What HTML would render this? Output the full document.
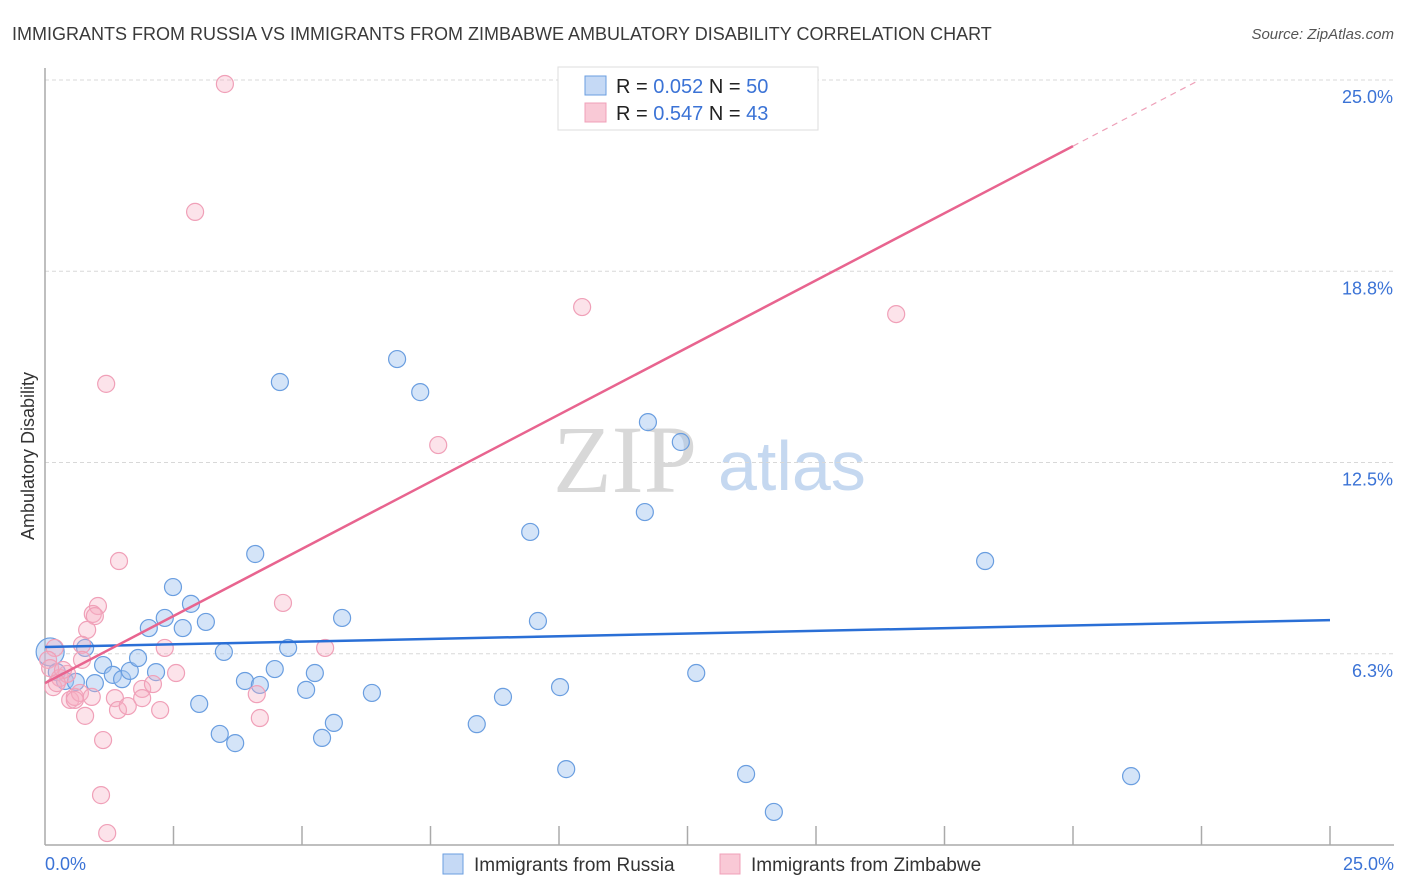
<!DOCTYPE html>
<html><head><meta charset="utf-8">
<style>
body{margin:0;background:#fff;font-family:"Liberation Sans",sans-serif;}
svg{display:block}
</style></head>
<body>
<svg id="chart" width="1406" height="892" xmlns="http://www.w3.org/2000/svg" font-family="Liberation Sans, sans-serif">
<text x="12" y="40" font-size="18" fill="#3a3a3a">IMMIGRANTS FROM RUSSIA VS IMMIGRANTS FROM ZIMBABWE AMBULATORY DISABILITY CORRELATION CHART</text>
<text x="1394" y="39" font-size="15" fill="#555" font-style="italic" text-anchor="end">Source: ZipAtlas.com</text>
<g>
<text x="553" y="492" font-size="96" font-family="Liberation Serif, serif" fill="#d8d8d8">ZIP</text>
<text x="718" y="490" font-size="70" fill="#c5d8f0">atlas</text>
</g>
<g id="grid"></g>
<g id="axes"></g>
<g id="pts"></g>
<g id="lines"></g>
<text transform="translate(34,456) rotate(-90)" font-size="18" fill="#333" text-anchor="middle">Ambulatory Disability</text>
<g>
<rect x="558" y="67" width="260" height="63" fill="#fff" stroke="#ddd"/>
<rect x="585" y="76" width="21" height="19" fill="#c5d9f5" stroke="#6a9ee0"/>
<rect x="585" y="103" width="21" height="19" fill="#f9c9d6" stroke="#f0a0b8"/>
<text x="616" y="93" font-size="20" fill="#222">R = <tspan fill="#3b73d6">0.052</tspan>   N = <tspan fill="#3b73d6">50</tspan></text>
<text x="616" y="120" font-size="20" fill="#222">R = <tspan fill="#3b73d6">0.547</tspan>   N = <tspan fill="#3b73d6">43</tspan></text>
</g>
<g>
<rect x="443" y="854" width="20" height="20" fill="#c5d9f5" stroke="#6a9ee0"/>
<text x="474" y="871" font-size="19" fill="#333">Immigrants from Russia</text>
<rect x="720" y="854" width="20" height="20" fill="#f9c9d6" stroke="#f0a0b8"/>
<text x="751" y="871" font-size="19" fill="#333">Immigrants from Zimbabwe</text>
</g>
</svg>
<script>
const yTicks=[6.25,12.5,18.75,25];
const yTickLabels=["6.3%","12.5%","18.8%","25.0%"];
const xTickCount=10;
const russiaX=[0.10,0.78,0.23,0.39,0.60,0.97,1.13,1.32,1.50,1.65,1.81,2.02,2.16,2.33,2.49,2.68,2.84,3.00,3.13,3.40,3.48,3.70,3.89,4.09,4.18,4.47,4.57,4.73,5.08,5.25,5.39,5.62,5.78,6.36,6.85,7.30,8.40,8.91,9.44,9.59,10.02,10.14,11.67,11.73,12.37,12.67,13.64,14.18,18.29,21.13];
const russiaY=[6.31,6.44,5.65,5.36,5.33,5.29,5.88,5.56,5.42,5.69,6.11,7.09,5.65,7.42,8.43,7.09,7.88,4.61,7.29,3.63,6.31,3.33,5.36,9.51,5.23,5.75,15.13,6.44,5.07,5.62,3.50,3.99,7.42,4.97,15.88,14.80,3.95,4.84,10.23,7.32,5.16,2.48,10.88,13.82,13.17,5.62,2.32,1.08,9.28,2.25];
const zimX=[3.50,2.92,1.19,10.45,16.56,7.65,1.44,4.63,1.03,0.93,0.97,0.82,5.45,2.33,0.72,0.19,0.06,0.16,0.29,0.43,0.49,0.58,0.68,0.78,0.91,1.13,1.09,1.21,1.36,1.42,1.61,1.89,1.89,2.10,2.24,2.55,4.12,4.18,0.10,0.35,0.23,0.72,0.58];
const zimY=[24.87,20.69,15.07,17.58,17.35,13.07,9.28,7.91,7.81,7.55,7.48,7.03,6.44,6.44,6.54,6.44,6.05,5.16,5.46,5.59,4.74,4.84,4.97,4.22,4.84,3.43,1.63,0.39,4.80,4.41,4.54,5.10,4.80,5.26,4.41,5.62,4.93,4.15,5.78,5.72,5.29,6.05,4.74];
const russiaTrend=[6.47,7.35];
const zimTrend=[5.29,0.8775];

const NS="http://www.w3.org/2000/svg";
const X0=45,X1=1330,Y0=845,Y25=80;
function sx(v){return X0+(X1-X0)*v/25;}
function sy(v){return Y0-(Y0-Y25)*v/25;}
function mk(tag,attrs,parent){const e=document.createElementNS(NS,tag);for(const k in attrs)e.setAttribute(k,attrs[k]);parent.appendChild(e);return e;}
const grid=document.getElementById('grid'),axes=document.getElementById('axes'),pts=document.getElementById('pts'),lines=document.getElementById('lines');
yTicks.forEach((t,i)=>{
  const l=mk('line',{x1:X0,x2:1394,y1:sy(t),y2:sy(t),stroke:'#d8d8d8','stroke-dasharray':'4,3'},grid);
  
  
  const tx=mk('text',{x:1393,y:sy(t)+23,'font-size':18,fill:'#3b73d6','text-anchor':'end'},axes);
  tx.textContent=yTickLabels[i];
  
  
});
const ax=mk('line',{x1:X0,x2:1394,y1:Y0,y2:Y0,stroke:'#aaa','stroke-width':1.5},axes);


const ay=mk('line',{x1:X0,x2:X0,y1:68,y2:Y0,stroke:'#aaa','stroke-width':1.5},axes);


for(let i=1;i<=xTickCount;i++){
  const tk=mk('line',{x1:sx(25*i/xTickCount),x2:sx(25*i/xTickCount),y1:826,y2:Y0,stroke:'#aaa','stroke-width':1.5},axes);
  
  
}
const xl0=mk('text',{x:45,y:870,'font-size':18,fill:'#3b73d6'},axes);xl0.textContent='0.0%';


const xl1=mk('text',{x:1394,y:870,'font-size':18,fill:'#3b73d6','text-anchor':'end'},axes);xl1.textContent='25.0%';


function drawPts(xs,ys,fill,stroke,name){
  xs.forEach((x,i)=>{
    const c=mk('circle',{cx:sx(x),cy:sy(ys[i]),r:(i===0&&name==='russia-point')?14:8.5,fill:fill,stroke:stroke,'stroke-width':1.2},pts);
    
    
  });
}
drawPts(russiaX,russiaY,'rgba(160,195,240,0.45)','#6a9ee0','russia-point');
drawPts(zimX,zimY,'rgba(245,175,195,0.35)','#f0a0b8','zimbabwe-point');
const bl=mk('line',{x1:sx(0),y1:sy(russiaTrend[0]),x2:sx(25),y2:sy(russiaTrend[1]),stroke:'#2a6fd6','stroke-width':2.5},lines);


const xEnd=20, xTop=(25-zimTrend[0])/zimTrend[1];
const pl=mk('line',{x1:sx(0),y1:sy(zimTrend[0]),x2:sx(xEnd),y2:sy(zimTrend[0]+zimTrend[1]*xEnd),stroke:'#e8648f','stroke-width':2.5},lines);


const pd=mk('line',{x1:sx(xEnd),y1:sy(zimTrend[0]+zimTrend[1]*xEnd),x2:sx(xTop),y2:sy(25),stroke:'#eea0b8','stroke-width':1.2,'stroke-dasharray':'6,5'},lines);


</script>
</body></html>
